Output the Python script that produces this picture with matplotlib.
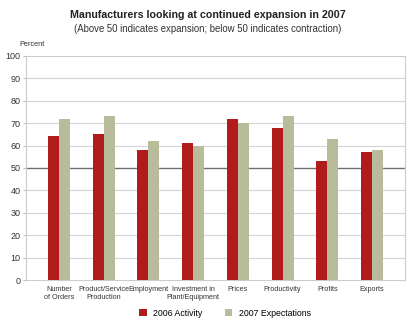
import matplotlib
matplotlib.use("Agg")
import matplotlib.pyplot as plt
import numpy as np

categories = ["Number\nof Orders", "Product/Service\nProduction", "Employment",
              "Investment in\nPlant/Equipment", "Prices", "Productivity", "Profits", "Exports"]
activity_2006 = [64.5, 65, 58, 61, 72, 68, 53, 57]
expect_2007 = [72, 73, 62, 60, 70, 73, 63, 58]
yticks = [0, 10, 20, 30, 40, 50, 60, 70, 80, 90, 100]

red = "#B01C1C"
green = "#B8BC9B"

plt.rcParams['font.family'] = ['Liberation Sans', 'DejaVu Sans']

fig = plt.figure(figsize=(4.15, 3.28), dpi=100)
ax = fig.add_axes([26/415, 1-280/328, (405-26)/415, (280-56)/328])

x = np.arange(len(categories))
w = 0.246
ax.bar(x - w/2, activity_2006, w, color=red, label="2006 Activity", zorder=3)
ax.bar(x + w/2, expect_2007, w, color=green, label="2007 Expectations", zorder=3)

ax.set_xlim(-0.74, 7.74)
ax.set_ylim(0, 100)
ax.set_yticks(yticks)
ax.set_yticklabels([str(t) for t in yticks], fontsize=6.5, color="#333333")
ax.set_xticks(x)
ax.set_xticklabels(categories, fontsize=5.2, color="#333333", linespacing=1.25)
ax.tick_params(axis='x', length=0, pad=4)
ax.tick_params(axis='y', length=2, color="#bbbbbb", pad=2)
for t in yticks:
    if t == 50:
        ax.axhline(t, color="#707070", lw=1.0, zorder=2)
    elif t not in (0, 100):
        ax.axhline(t, color="#d5d5d5", lw=0.8, zorder=1)
for s in ax.spines.values():
    s.set_color("#cccccc")
    s.set_linewidth(0.8)

fig.text(0.5, 1-15/328, "Manufacturers looking at continued expansion in 2007",
         ha='center', va='center', fontsize=7.7, fontweight='bold', color="#222222")
fig.text(0.5, 1-29/328, "(Above 50 indicates expansion; below 50 indicates contraction)",
         ha='center', va='center', fontsize=6.9, color="#333333")
fig.text(19/415, 1-44/328, "Percent", ha='left', va='center', fontsize=5.3, color="#333333")

fig.legend(loc='center', bbox_to_anchor=(225/415, 1-313/328), ncol=2, frameon=False,
           fontsize=6.3, handlelength=0.85, handleheight=0.85, columnspacing=2.6,
           handletextpad=0.7)

fig.savefig("out.png", dpi=100, facecolor="white")
